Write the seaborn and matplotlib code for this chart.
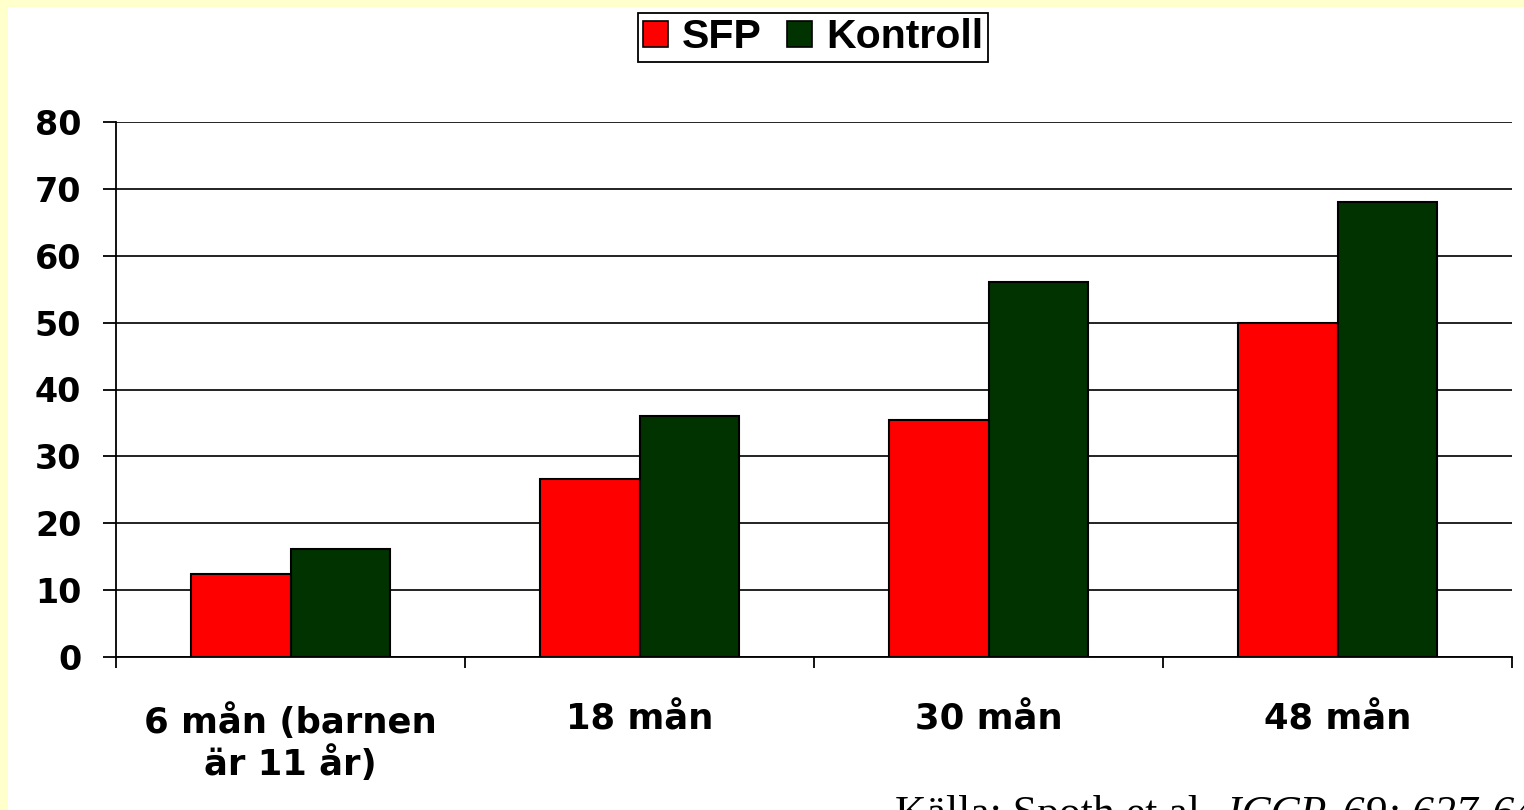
import numpy as np
import pandas as pd
import matplotlib
matplotlib.use("Agg")
import matplotlib.pyplot as plt
import seaborn as sns
from matplotlib.patches import Rectangle
from matplotlib.ticker import FixedLocator

# ---- data ----
categories = ["6 mån (barnen\när 11 år)", "18 mån", "30 mån", "48 mån"]
series_names = ["SFP", "Kontroll"]
sfp_values = [12.4, 26.6, 35.4, 50.0]
kontroll_values = [16.1, 36.1, 56.1, 68.1]
y_ticks = [0, 10, 20, 30, 40, 50, 60, 70, 80]
source_plain = "Källa: Spoth et al. "
source_italic = "JCCP, 69: 627-642"
colors = ["#FF0000", "#003300"]

df = pd.DataFrame({
    "cat": categories * 2,
    "series": [series_names[0]] * len(categories) + [series_names[1]] * len(categories),
    "val": sfp_values + kontroll_values,
})

sns.set_theme(style="white")
plt.rcParams["font.family"] = ["DejaVu Sans"]
plt.rcParams["text.color"] = "black"
plt.rcParams["xtick.color"] = "black"
plt.rcParams["ytick.color"] = "black"
plt.rcParams["axes.labelcolor"] = "black"

fig = plt.figure(figsize=(15.24, 8.10), dpi=100, facecolor="white")
# pale yellow frame strips (top & left)
fig.add_artist(Rectangle((0, 1 - 7 / 810), 1, 7 / 810, transform=fig.transFigure,
                         facecolor="#FFFFCC", edgecolor="none", zorder=0))
fig.add_artist(Rectangle((0, 0), 8 / 1524, 1, transform=fig.transFigure,
                         facecolor="#FFFFCC", edgecolor="none", zorder=0))

ax = fig.add_axes([116 / 1524, 1 - 657 / 810, (1512 - 116) / 1524, (657 - 122) / 810])
sns.barplot(data=df, x="cat", y="val", hue="series", order=categories,
            hue_order=series_names, palette=colors, saturation=1,
            width=0.573, edgecolor="black", linewidth=1.5, errorbar=None, ax=ax)

handles, labels = ax.get_legend_handles_labels()
if ax.get_legend() is not None:
    ax.get_legend().remove()

ax.set_xlim(-0.5, 3.5)
ax.set_ylim(0, 80)
ax.set_xlabel("")
ax.set_ylabel("")
ax.set_yticks(y_ticks)
ax.set_yticklabels([str(v) for v in y_ticks], fontsize=24, fontweight="bold", color="black")
ax.set_xticks(range(len(categories)))
ax.set_xticklabels(categories, fontsize=25.5, fontweight="bold", va="top", ha="center",
                   color="black")
ax.xaxis.set_minor_locator(FixedLocator([-0.5, 0.5, 1.5, 2.5, 3.5]))

ax.tick_params(axis="y", which="major", direction="out", length=9.5, width=1.3,
               color="black", pad=15.5, left=True)
ax.tick_params(axis="x", which="major", length=0, pad=33, bottom=True)
ax.tick_params(axis="x", which="minor", direction="out", length=8, width=1.3,
               color="black", bottom=True)

ax.yaxis.grid(True, color="#222222", linewidth=1.4)
ax.set_axisbelow(True)
for side in ["top", "right"]:
    ax.spines[side].set_visible(False)
for side in ["left", "bottom"]:
    ax.spines[side].set_color("black")
    ax.spines[side].set_linewidth(1.3)
    ax.spines[side].set_visible(True)
ax.set_facecolor("white")

leg = fig.legend(handles, labels, loc="upper center",
                 bbox_to_anchor=(813 / 1524, 1 - 13 / 810), ncol=2,
                 frameon=True, fancybox=False, framealpha=1, edgecolor="black",
                 prop={"family": "Liberation Sans", "weight": "bold", "size": 29.5},
                 handlelength=0.61, handleheight=0.58, handletextpad=0.35,
                 columnspacing=0.6, borderpad=0.13, borderaxespad=0)
leg.get_frame().set_linewidth(1.3)
for h in leg.legend_handles:
    h.set_edgecolor("black")
    h.set_linewidth(1.2)
for t in leg.get_texts():
    t.set_color("black")

t1 = fig.text(895 / 1524, (810 - 826) / 810, source_plain, family="Liberation Serif",
              fontsize=31.5, va="baseline", ha="left", color="black")
fig.canvas.draw()
ax.annotate(source_italic, xy=(1, 0), xycoords=t1, va="bottom", ha="left",
            family="Liberation Serif", style="italic", fontsize=31.5, color="black",
            annotation_clip=False)

fig.savefig("out.png", dpi=100, facecolor="white")
